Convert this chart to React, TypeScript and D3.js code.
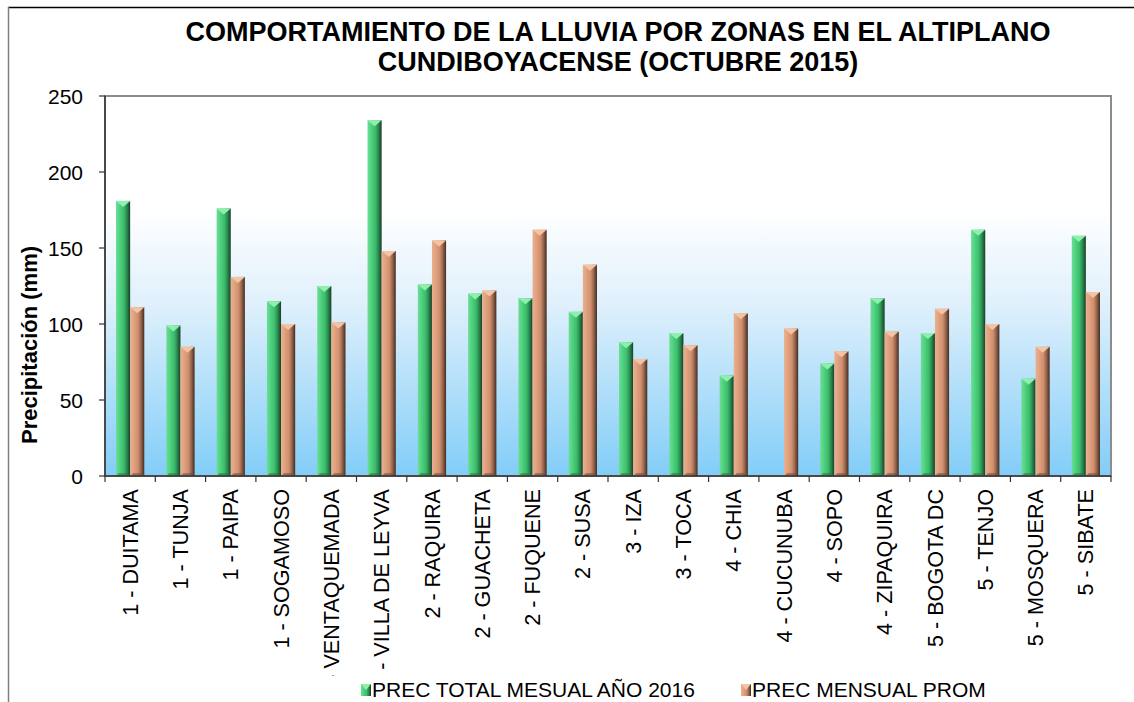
import React from "react";
import * as d3 from "d3";

const categories = [
  "1 - DUITAMA", "1 - TUNJA", "1 - PAIPA", "1 - SOGAMOSO", "1 - VENTAQUEMADA",
  "1 - VILLA DE LEYVA", "2 - RAQUIRA", "2 - GUACHETA", "2 - FUQUENE", "2 - SUSA",
  "3 - IZA", "3 - TOCA", "4 - CHIA", "4 - CUCUNUBA", "4 - SOPO",
  "4 - ZIPAQUIRA", "5 - BOGOTA DC", "5 - TENJO", "5 - MOSQUERA", "5 - SIBATE",
];
const precTotal = [181, 99, 176, 115, 125, 234, 126, 120, 117, 108, 88, 94, 66, 0, 74, 117, 94, 162, 64, 158];
const precProm = [111, 85, 131, 100, 101, 148, 155, 122, 162, 139, 77, 86, 107, 97, 82, 95, 110, 100, 85, 121];
const yTicks = [0, 50, 100, 150, 200, 250];
const seriesNames = ["PREC TOTAL MESUAL AÑO 2016", "PREC MENSUAL PROM"];

const W = 1134;
const H = 702;
const plot = { left: 105, right: 1111, top: 96, bottom: 476 };
const font = "'Liberation Sans', Arial, sans-serif";

export default function App() {
  const x = d3.scaleBand().domain(categories).range([plot.left, plot.right]).paddingInner(0).paddingOuter(0);
  const inner = d3.scaleBand().domain(["a", "b"]).range([0, x.bandwidth()]).paddingOuter(0.78).paddingInner(0);
  const y = d3.scaleLinear().domain([0, 250]).range([plot.bottom, plot.top]);
  const bw = inner.bandwidth();

  const bar = (v: number, cx: number, kind: "g" | "o", key: string) => {
    if (v <= 0) return null;
    const top = y(v);
    const h = plot.bottom - top;
    const light = kind === "g" ? "#8ff0ad" : "#f4c3a3";
    const bottomShade = kind === "g" ? "#2a7a46" : "#7a5040";
    return (
      <g key={key}>
        <rect x={cx} y={top} width={bw} height={h} fill={`url(#grad-${kind})`} />
        <polygon points={`${cx},${top} ${cx + bw},${top} ${cx + bw / 2},${top + 6}`} fill={light} />
        <polygon points={`${cx},${plot.bottom} ${cx + bw},${plot.bottom} ${cx + bw - 3},${plot.bottom - 3} ${cx + 3},${plot.bottom - 3}`} fill={bottomShade} opacity={0.6} />
      </g>
    );
  };

  return (
    <svg width={W} height={H} style={{ position: "absolute", left: 0, top: 0 }} fontFamily={font}>
      <defs>
        <linearGradient id="bg" x1="0" y1="0" x2="0" y2="1">
          <stop offset="0" stopColor="#ffffff" />
          <stop offset="0.3" stopColor="#ffffff" />
          <stop offset="0.55" stopColor="#dff0fc" />
          <stop offset="1" stopColor="#82cdf8" />
        </linearGradient>
        <linearGradient id="grad-g" x1="0" y1="0" x2="1" y2="0">
          <stop offset="0" stopColor="#6fdc95" />
          <stop offset="0.2" stopColor="#55d686" />
          <stop offset="0.55" stopColor="#3cbd6b" />
          <stop offset="0.75" stopColor="#2c8e52" />
          <stop offset="1" stopColor="#173f27" />
        </linearGradient>
        <linearGradient id="grad-o" x1="0" y1="0" x2="1" y2="0">
          <stop offset="0" stopColor="#eab08e" />
          <stop offset="0.2" stopColor="#e4a582" />
          <stop offset="0.55" stopColor="#d09070" />
          <stop offset="0.75" stopColor="#9c6a50" />
          <stop offset="1" stopColor="#452c20" />
        </linearGradient>
        <clipPath id="labelClip">
          <rect x={0} y={plot.bottom} width={W} height={676 - plot.bottom} />
        </clipPath>
      </defs>

      <rect x={0} y={0} width={W} height={H} fill="#fff" />
      <line x1={8} y1={7.5} x2={W} y2={7.5} stroke="#000" strokeWidth={1.5} />
      <line x1={8.5} y1={7} x2={8.5} y2={H} stroke="#808080" strokeWidth={1.5} />

      <text x={618} y={41} textAnchor="middle" fontSize={27} fontWeight="bold">
        COMPORTAMIENTO DE LA LLUVIA POR ZONAS EN EL ALTIPLANO
      </text>
      <text x={618} y={71} textAnchor="middle" fontSize={27} fontWeight="bold">
        CUNDIBOYACENSE (OCTUBRE 2015)
      </text>

      <rect x={plot.left} y={plot.top} width={plot.right - plot.left} height={plot.bottom - plot.top} fill="url(#bg)" />
      <rect x={plot.left} y={plot.top} width={plot.right - plot.left} height={plot.bottom - plot.top} fill="none" stroke="#8c8c8c" strokeWidth={2} />

      {categories.map((c, i) => {
        const x0 = x(c)!;
        return (
          <g key={c}>
            {bar(precTotal[i], x0 + inner("a")!, "g", c + "g")}
            {bar(precProm[i], x0 + inner("b")!, "o", c + "o")}
          </g>
        );
      })}

      {/* y axis */}
      <line x1={plot.left} y1={plot.top} x2={plot.left} y2={plot.bottom} stroke="#333" strokeWidth={1.5} />
      {yTicks.map((t) => (
        <g key={t}>
          <line x1={plot.left - 6} x2={plot.left} y1={y(t)} y2={y(t)} stroke="#333" strokeWidth={1.2} />
          <text x={83} y={y(t)} dy="0.36em" textAnchor="end" fontSize={21}>{t}</text>
        </g>
      ))}
      <text transform={`translate(37,345) rotate(-90)`} textAnchor="middle" fontSize={22} fontWeight="bold">
        Precipitación  (mm)
      </text>

      {/* x axis */}
      <line x1={plot.left} y1={plot.bottom} x2={plot.right} y2={plot.bottom} stroke="#333" strokeWidth={1.5} />
      {categories.concat(["end"]).map((c, i) => {
        const xx = plot.left + i * x.step();
        return <line key={"t" + i} x1={xx} x2={xx} y1={plot.bottom} y2={plot.bottom + 6} stroke="#333" strokeWidth={1.2} />;
      })}
      <g clipPath="url(#labelClip)">
        {categories.map((c) => (
          <text
            key={"l" + c}
            transform={`translate(${x(c)! + x.bandwidth() / 2},489) rotate(-90)`}
            textAnchor="end"
            dy="0.35em"
            fontSize={21.6}
          >
            {c}
          </text>
        ))}
      </g>

      {/* legend */}
      <rect x={361} y={684} width={10} height={12} fill="url(#grad-g)" />
      <polygon points="361,684 371,684 366,690" fill="#8ff0ad" />
      <text x={372} y={697} fontSize={21}>{seriesNames[0]}</text>
      <rect x={741} y={684} width={10} height={12} fill="url(#grad-o)" />
      <polygon points="741,684 751,684 746,690" fill="#f4c3a3" />
      <text x={752} y={697} fontSize={21}>{seriesNames[1]}</text>
    </svg>
  );
}
